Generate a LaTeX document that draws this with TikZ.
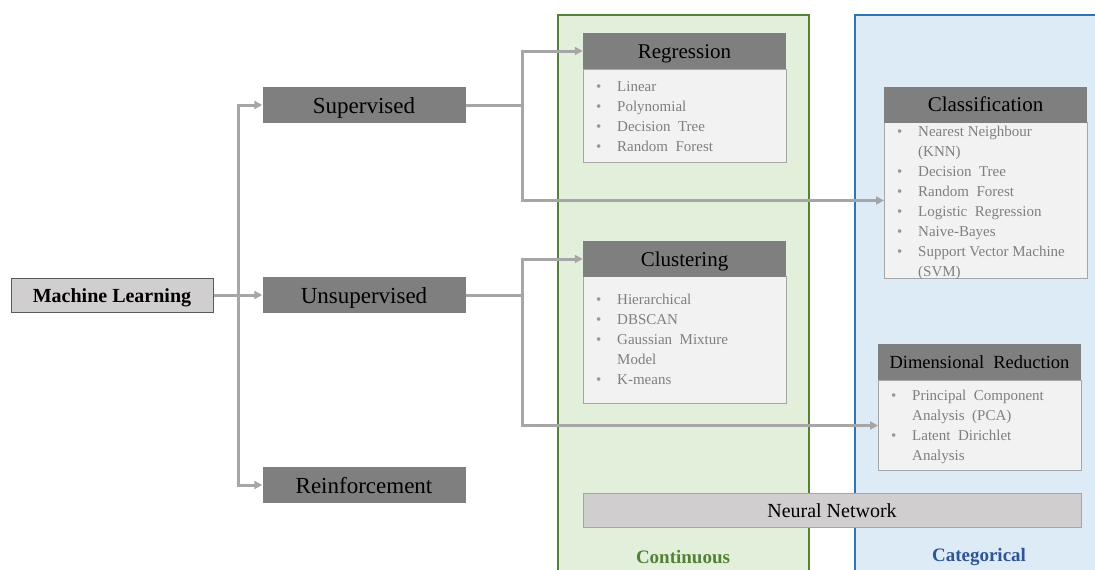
\documentclass[tikz,border=0pt]{standalone}
\usepackage{fontspec}
\setmainfont{Liberation Serif}
\usetikzlibrary{arrows.meta}
\definecolor{grnfill}{HTML}{E2EFDA}
\definecolor{grnline}{HTML}{538135}
\definecolor{blufill}{HTML}{DDEBF7}
\definecolor{bluline}{HTML}{2E75B6}
\definecolor{blutext}{HTML}{2F5597}
\definecolor{hdrfill}{HTML}{7F7F7F}
\definecolor{bodyfill}{HTML}{F2F2F2}
\definecolor{bodyline}{HTML}{A6A6A6}
\definecolor{lightbox}{HTML}{D0CECE}
\definecolor{connc}{HTML}{A6A6A6}
\definecolor{itemc}{HTML}{7F7F7F}
\newcommand{\itm}[1]{\makebox[21pt][l]{\color{itemc!80}•}#1}
\newcommand{\cnt}[1]{\makebox[21pt][l]{}#1}
\tikzset{
  catbox/.style={text height=16pt, text depth=0pt, fill=hdrfill, draw=none, minimum width=203pt, minimum height=36pt, inner sep=0pt, font=\fontsize{23}{26}\selectfont},
  hdrbox/.style={text height=14.5pt, text depth=0pt, fill=hdrfill, draw=none, minimum width=203pt, minimum height=36pt, inner sep=0pt, font=\fontsize{21}{24}\selectfont},
  bodybox/.style={fill=bodyfill, draw=bodyline, line width=1pt, minimum width=203pt, inner sep=0pt, anchor=north west},
  itemlist/.style={anchor=north west, inner sep=0pt, align=left, text=itemc, font=\fontsize{15}{20}\selectfont},
  conn/.style={draw=connc, line width=3pt},
  arr/.style={conn, -{Triangle[length=8pt,width=8pt]}},
}
\begin{document}
\begin{tikzpicture}[x=1pt,y=-1pt]
\useasboundingbox (0,0) rectangle (1095,570);
% panels
\fill[grnfill] (558,15) rectangle (809,570);
\draw[grnline, line width=1.5pt] (558,570) -- (558,15) -- (809,15) -- (809,570);
\fill[blufill] (855,15) rectangle (1095,570);
\draw[bluline, line width=1.5pt] (855,570) -- (855,15) -- (1095,15);
% nodes
\node[text height=14pt, text depth=0pt, fill=lightbox, draw=black!65, line width=1pt, minimum width=202pt, minimum height=34pt, inner sep=0pt, font=\bfseries\fontsize{20}{24}\selectfont] (ml) at (112,295) {Machine Learning};
\node[catbox] (sup) at (364,105) {Supervised};
\node[catbox] (unsup) at (364,295) {Unsupervised};
\node[catbox] (reinf) at (364,485) {Reinforcement};
% regression
\node[bodybox, minimum height=93pt] (regb) at (583,69) {};
\node[hdrbox] (regh) at (684.5,51) {Regression};
\node[itemlist] (regl) at (596,81) {\itm{Linear}\\\itm{Polynomial}\\\itm{Decision\ \ Tree}\\\itm{Random\ \ Forest}};
% clustering
\node[bodybox, minimum height=127pt] (club) at (583,276) {};
\node[hdrbox] (cluh) at (684.5,259) {Clustering};
\node[itemlist] (clul) at (596,294) {\itm{Hierarchical}\\\itm{DBSCAN}\\\itm{Gaussian\ \ Mixture}\\\cnt{Model}\\\itm{K-means}};
% classification
\node[bodybox, minimum height=156pt] (clsb) at (884,122) {};
\node[hdrbox] (clsh) at (985.5,104.5) {Classification};
\node[itemlist] (clsl) at (897,126) {\itm{Nearest Neighbour}\\\cnt{(KNN)}\\\itm{Decision\ \ Tree}\\\itm{Random\ \ Forest}\\\itm{Logistic\ \ Regression}\\\itm{Naive-Bayes}\\\itm{Support Vector Machine}\\\cnt{(SVM)}};
% dimensional reduction
\node[bodybox, minimum height=90pt] (dimb) at (878,380) {};
\node[hdrbox, text height=13pt, font=\fontsize{18.5}{22}\selectfont] (dimh) at (979.5,362) {Dimensional\ \ Reduction};
\node[itemlist] (diml) at (891,390) {\itm{Principal\ \ Component}\\\cnt{Analysis\ \ (PCA)}\\\itm{Latent\ \ Dirichlet}\\\cnt{Analysis}};
% neural network
\node[text height=14pt, text depth=0pt, fill=lightbox, draw=bodyline, line width=1pt, minimum width=498pt, minimum height=34pt, inner sep=0pt, font=\fontsize{20}{24}\selectfont] (nn) at (832,510) {Neural Network};
% labels
\node[text=grnline, font=\bfseries\fontsize{19}{22}\selectfont] (cont) at (683,557) {Continuous};
\node[text=blutext, font=\bfseries\fontsize{19}{22}\selectfont] (cat) at (979,557) {Categorical};
% junctions
\coordinate (t1) at (238,295);
\coordinate (t2) at (522,105);
\coordinate (t3) at (522,295);
% connectors
\draw[arr] (ml.east) -- (unsup.west);
\draw[arr] (t1) |- (sup.west);
\draw[arr] (t1) |- (reinf.west);
\draw[conn] (sup.east) -- (t2);
\draw[arr] (t2) |- (regh.west);
\draw[arr] (t2) |- (clsb.west);
\draw[conn] (unsup.east) -- (t3);
\draw[arr] (t3) |- (cluh.west);
\draw[arr] (t3) |- (dimb.west);
\end{tikzpicture}
\end{document}
